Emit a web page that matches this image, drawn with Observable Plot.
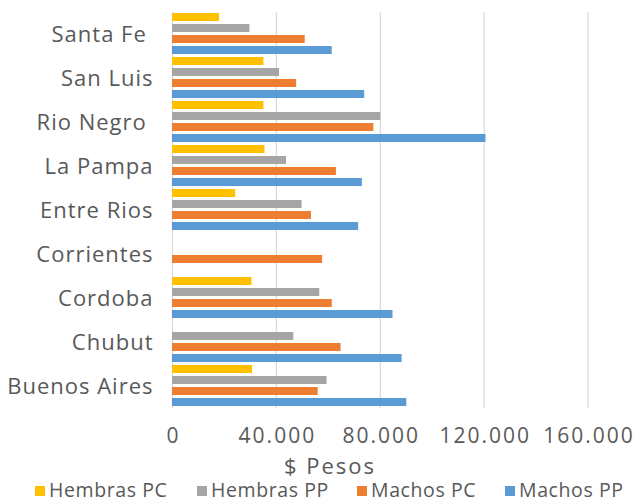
<!DOCTYPE html>
<html>
<head>
<meta charset="utf-8">
<script src="https://cdn.jsdelivr.net/npm/d3@7"></script>
<script src="https://cdn.jsdelivr.net/npm/@observablehq/plot@0.6"></script>
<style>
  html, body { margin: 0; padding: 0; background: #fff; }
  #wrap { position: relative; width: 636px; height: 502px; font-family: "Open Sans", sans-serif; color: #595959; }
  #xlabel { position: absolute; left: 330px; top: 450px; transform: translateX(-50%); font-size: 22px; line-height: 30px; letter-spacing: 2px; white-space: nowrap; }
  .leg { position: absolute; top: 476px; font-size: 19.5px; line-height: normal; letter-spacing: 0.6px; white-space: nowrap; }
  .leg span.sw { display: inline-block; width: 10px; height: 10px; margin-right: 4px; vertical-align: 1px; }
  g[aria-label="x-axis tick label"] text { letter-spacing: 2px; }
  g[aria-label="fy-axis tick label"] text { letter-spacing: 1px; }
</style>
</head>
<body>
<div id="wrap"></div>
<script>
const provinces = ["Santa Fe ", "San Luis", "Rio Negro ", "La Pampa", "Entre Rios", "Corrientes", "Cordoba", "Chubut", "Buenos Aires"];
const series = ["Hembras PC", "Hembras PP", "Machos PC", "Machos PP"];
const colors = ["#FFC000", "#A5A5A5", "#ED7D31", "#5B9BD5"];
const hembrasPC = [18100, 35200, 35200, 35600, 24300, null, 30600, null, 30800];
const hembrasPP = [29800, 41200, 80200, 43900, 49900, null, 56700, 46700, 59500];
const machosPC  = [51100, 47800, 77500, 63100, 53500, 57800, 61500, 64900, 56100];
const machosPP  = [61500, 74000, 120700, 73100, 71700, null, 84900, 88400, 90200];
const xTicks = [0, 40000, 80000, 120000, 160000];
const xTitle = "$ Pesos";

const seriesValues = [hembrasPC, hembrasPP, machosPC, machosPP];
const data = [];
provinces.forEach((p, i) => {
  series.forEach((s, j) => {
    const v = seriesValues[j][i];
    if (v != null) data.push({province: p, series: s, value: v});
  });
});

const fmt = d => d3.format(",")(d).replace(/,/g, ".");

const chart = Plot.plot({
  width: 636,
  height: 452,
  marginLeft: 172,
  marginRight: 0,
  marginTop: 12,
  marginBottom: 44,
  style: {fontFamily: "'Open Sans', sans-serif", color: "#595959", background: "white", overflow: "visible"},
  x: {domain: [0, 178650]},
  fy: {domain: provinces, padding: 0},
  y: {domain: series, paddingInner: 0.27, paddingOuter: 0.135, axis: null},
  color: {domain: series, range: colors},
  marks: [
    Plot.gridX(xTicks, {stroke: "#d9d9d9", strokeOpacity: 1, strokeWidth: 1.2}),
    Plot.barX(data, {x: "value", y: "series", fy: "province", fill: "series"}),
    Plot.axisX({ticks: xTicks, tickFormat: fmt, tickSize: 0, tickPadding: 20, fontSize: 21, label: null, dx: 1}),
    Plot.axisFy({anchor: "left", tickSize: 0, tickPadding: 19, fontSize: 22, label: null,
                 tickFormat: d => d.replace(/ $/, "\u00a0")})
  ]
});

const wrap = document.getElementById("wrap");
wrap.appendChild(chart);

const xl = document.createElement("div");
xl.id = "xlabel";
xl.textContent = xTitle;
wrap.appendChild(xl);

const legLefts = [35, 197, 357, 505];
series.forEach((s, j) => {
  const d = document.createElement("div");
  d.className = "leg";
  d.style.left = legLefts[j] + "px";
  const sw = document.createElement("span");
  sw.className = "sw";
  sw.style.background = colors[j];
  d.appendChild(sw);
  d.appendChild(document.createTextNode(s));
  wrap.appendChild(d);
});
</script>
</body>
</html>
